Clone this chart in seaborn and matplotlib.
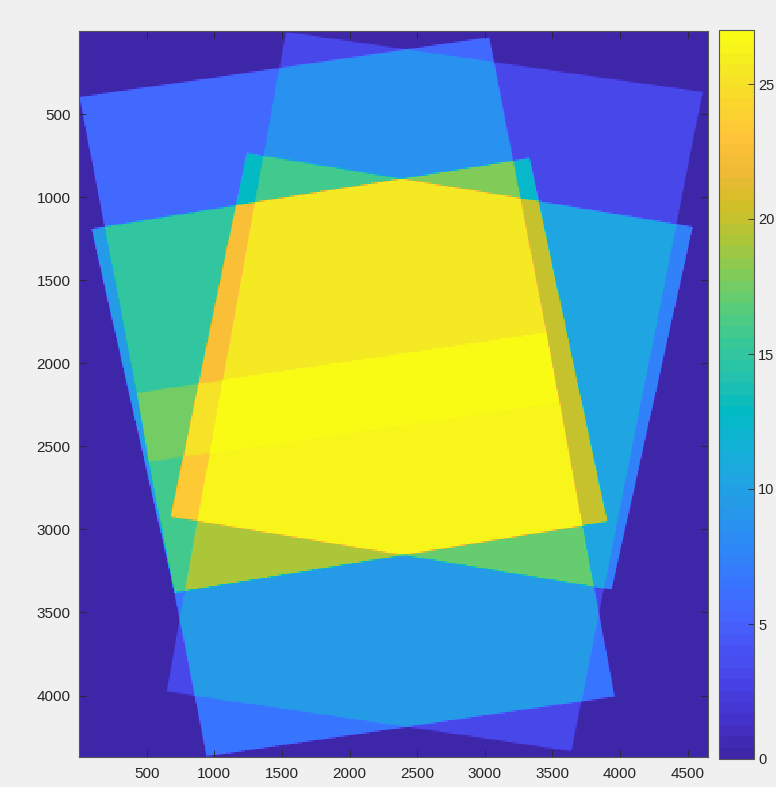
import numpy as np
import matplotlib
matplotlib.use('Agg')
import matplotlib.pyplot as plt
from matplotlib.colors import LinearSegmentedColormap
from matplotlib.path import Path
import seaborn as sns

# size of the mosaic (image pixels)
img_w = 4650
img_h = 4370

# frame footprints: corners (TL, TR, BR, BL) in image pixels, and overlap count
frame_names = ['top_left', 'right_tall', 'mid_left', 'mid_right', 'overlap_band', 'bottom']
frame_x = [[4, 3033, 3456, 426],
           [1530, 4611, 3641, 648],
           [93, 3330, 3907, 707],
           [1241, 4537, 3937, 678],
           [426, 3456, 3552, 515],
           [515, 3552, 3959, 944]]
frame_y = [[398, 37, 1817, 2177],
           [5, 367, 4336, 3975],
           [1191, 764, 2953, 3380],
           [734, 1179, 3362, 2923],
           [2177, 1817, 2232, 2592],
           [2592, 2232, 4005, 4366]]
frame_count = [5.5, 3, 9.5, 7.5, 8, 6.5]

x_ticks = [500, 1000, 1500, 2000, 2500, 3000, 3500, 4000, 4500]
y_ticks = [500, 1000, 1500, 2000, 2500, 3000, 3500, 4000]
cbar_ticks = [0, 5, 10, 15, 20, 25]
c_max = 27

# MATLAB parula (sampled)
parula_pts = [
    (0.2422, 0.1504, 0.6603), (0.2647, 0.1978, 0.7952), (0.2783, 0.2559, 0.8991),
    (0.2810, 0.3228, 0.9579), (0.2699, 0.3892, 0.9906), (0.2206, 0.4603, 0.9973),
    (0.1786, 0.5289, 0.9682), (0.1540, 0.5902, 0.9218), (0.1248, 0.6459, 0.8883),
    (0.0689, 0.6948, 0.8394), (0.0067, 0.7312, 0.7660), (0.1408, 0.7584, 0.6842),
    (0.2161, 0.7843, 0.5923), (0.3406, 0.8008, 0.4789), (0.5044, 0.7993, 0.3480),
    (0.6720, 0.7793, 0.2227), (0.8203, 0.7498, 0.1535), (0.9393, 0.7288, 0.2100),
    (0.9970, 0.7659, 0.2199), (0.9786, 0.8386, 0.1766), (0.9597, 0.9135, 0.1423),
    (0.9769, 0.9839, 0.0805)]
parula = LinearSegmentedColormap.from_list('parula', parula_pts, N=64)

# coverage map: sum of frame counts, 3x3 supersampled per grid cell
step = 10
sub = 3
xs = np.arange(0, img_w, step)
ys = np.arange(0, img_h, step)
gx, gy = np.meshgrid(xs, ys)
cover = np.zeros(gx.shape)
offs = (np.arange(sub) + 0.5) / sub * step
for ox in offs:
    for oy in offs:
        pts = np.column_stack([(gx + ox).ravel(), (gy + oy).ravel()])
        for fx, fy, w in zip(frame_x, frame_y, frame_count):
            poly = Path(np.column_stack([fx, fy]))
            cover += (w * poly.contains_points(pts)).reshape(gx.shape)
cover /= sub * sub
cover = np.minimum(cover, c_max)

plt.rcParams['font.family'] = ['Liberation Sans', 'DejaVu Sans']
fig = plt.figure(figsize=(7.76, 7.87), dpi=100, facecolor='#f0f0f0')
ax = fig.add_axes([79 / 776, 1 - 757 / 787, 629 / 776, 726 / 787])
cax = fig.add_axes([719 / 776, 1 - 759 / 787, 35 / 776, 729 / 787])

sns.heatmap(cover, ax=ax, cbar_ax=cax, cmap=parula, vmin=0, vmax=c_max,
            xticklabels=False, yticklabels=False, rasterized=True)

ax.set_xticks(np.array(x_ticks) / step)
ax.set_xticklabels([str(t) for t in x_ticks], rotation=0)
ax.set_yticks(np.array(y_ticks) / step)
ax.set_yticklabels([str(t) for t in y_ticks], rotation=0)
ax.tick_params(axis='both', direction='in', length=5, width=0.6,
               color='#262626', labelcolor='#262626', labelsize=11,
               top=True, right=True)
ax.tick_params(axis='x', pad=7)
ax.tick_params(axis='y', pad=6)
for s in ax.spines.values():
    s.set_visible(True)
    s.set_color('#555555')
    s.set_linewidth(0.8)

cb = ax.collections[0].colorbar
cb.set_ticks(cbar_ticks)
cb.set_ticklabels([str(t) for t in cbar_ticks])
cb.outline.set_visible(True)
cb.outline.set_linewidth(0.8)
cb.outline.set_edgecolor('#555555')
cax.tick_params(direction='in', length=4, width=0.6, color='#262626',
                labelcolor='#262626', labelsize=10.5, pad=3)

fig.savefig('out.png', dpi=100, facecolor=fig.get_facecolor())
